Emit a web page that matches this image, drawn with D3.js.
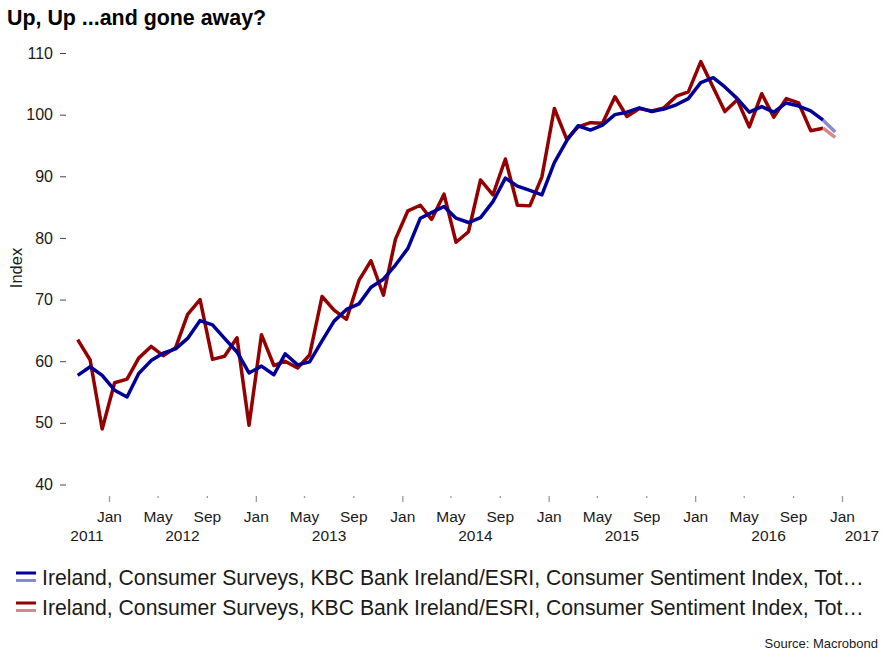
<!DOCTYPE html>
<html>
<head>
<meta charset="utf-8">
<script src="https://cdn.jsdelivr.net/npm/d3@7"></script>
<style>
  body { margin: 0; background: #fff; }
  svg { display: block; }
  text { font-family: "Liberation Sans", Arial, Helvetica, sans-serif; }
</style>
</head>
<body>
<svg id="chart" width="889" height="657"></svg>
<script>
// ---------------- DATA ----------------
const months = [
  "2011-10","2011-11","2011-12",
  "2012-01","2012-02","2012-03","2012-04","2012-05","2012-06","2012-07","2012-08","2012-09","2012-10","2012-11","2012-12",
  "2013-01","2013-02","2013-03","2013-04","2013-05","2013-06","2013-07","2013-08","2013-09","2013-10","2013-11","2013-12",
  "2014-01","2014-02","2014-03","2014-04","2014-05","2014-06","2014-07","2014-08","2014-09","2014-10","2014-11","2014-12",
  "2015-01","2015-02","2015-03","2015-04","2015-05","2015-06","2015-07","2015-08","2015-09","2015-10","2015-11","2015-12",
  "2016-01","2016-02","2016-03","2016-04","2016-05","2016-06","2016-07","2016-08","2016-09","2016-10","2016-11","2016-12"
];
// Consumer Sentiment Index, monthly (red)
const sentimentMonthly = [
  63.5, 60.2, 49.0,
  56.5, 57.1, 60.5, 62.4, 60.9, 62.2, 67.6, 70.0, 60.3, 60.8, 63.8, 49.6,
  64.3, 59.3, 60.0, 58.9, 61.0, 70.5, 68.3, 66.8, 73.1, 76.3, 70.7, 79.8,
  84.4, 85.3, 83.0, 87.1, 79.3, 81.0, 89.4, 87.0, 92.8, 85.3, 85.2, 89.9,
  101.0, 96.0, 98.0, 98.7, 98.6, 102.9, 99.7, 101.0, 100.6, 101.1, 103.0, 103.7,
  108.6, 104.4, 100.5, 102.4, 98.0, 103.4, 99.6, 102.6, 101.9, 97.4, 97.8, 96.3
];
// Consumer Sentiment Index, 3-month average (blue)
const sentiment3m = [
  57.7, 59.1, 57.7,
  55.3, 54.2, 58.0, 60.1, 61.3, 62.0, 63.7, 66.6, 65.9, 63.7, 61.5, 58.1,
  59.2, 57.8, 61.2, 59.4, 59.9, 63.3, 66.5, 68.4, 69.3, 72.0, 73.3, 75.6,
  78.3, 83.2, 84.1, 85.1, 83.2, 82.5, 83.3, 85.9, 89.7, 88.4, 87.7, 87.0,
  92.2, 95.8, 98.2, 97.5, 98.3, 100.0, 100.4, 101.1, 100.5, 100.9, 101.6, 102.6,
  105.2, 106.0, 104.5, 102.6, 100.4, 101.3, 100.4, 101.9, 101.4, 100.6, 99.1, 97.2
];
const yTicks = [40, 50, 60, 70, 80, 90, 100, 110];
const yearLabels = ["2011", "2012", "2013", "2014", "2015", "2016", "2017"];
const seriesLabels = [
  "Ireland, Consumer Surveys, KBC Bank Ireland/ESRI, Consumer Sentiment Index, Tot\u2026",
  "Ireland, Consumer Surveys, KBC Bank Ireland/ESRI, Consumer Sentiment Index, Tot\u2026"
];
const titleText = "Up, Up ...and gone away?";
const yAxisTitle = "Index";
const sourceText = "Source: Macrobond";

// ---------------- STYLE ----------------
const colors = {
  blue: "#000096", blueLight: "#8a8ad2",
  red: "#930000", redLight: "#d48a8a",
  text: "#1a1a1a"
};
const plotLeft = 65, plotRight = 882;

const svg = d3.select("#chart");
const parseMonth = d3.timeParse("%Y-%m");
const dates = months.map(m => d3.timeDay.offset(parseMonth(m), 14));

const x = d3.scaleTime()
  .domain([new Date(2012, 0, 1), new Date(2017, 0, 1)])
  .range([109, 842]);
const y = d3.scaleLinear().domain([40, 110]).range([484.5, 53]);

// Title
svg.append("text")
  .attr("x", 7).attr("y", 25)
  .attr("font-size", 21.4).attr("font-weight", "bold")
  .attr("fill", "#000")
  .text(titleText);

// Y axis
const yAxis = svg.append("g")
  .attr("transform", "translate(66,0)")
  .call(d3.axisLeft(y).tickValues(yTicks).tickSize(6).tickPadding(7));
yAxis.select(".domain").remove();
yAxis.selectAll(".tick line").attr("stroke", "#444").attr("stroke-width", 1);
yAxis.selectAll(".tick text")
  .attr("font-size", 16).attr("fill", colors.text)
  .style("font-family", "'Liberation Sans', Arial, sans-serif");

svg.append("text")
  .attr("transform", "translate(22,268) rotate(-90)")
  .attr("text-anchor", "middle")
  .attr("font-size", 16.5).attr("fill", colors.text)
  .text(yAxisTitle);

// X axis
const xTickDates = d3.timeMonth.every(4).range(new Date(2012, 0, 1), new Date(2017, 0, 2));
const xAxis = svg.append("g")
  .attr("transform", "translate(0,496)")
  .call(d3.axisBottom(x).tickValues(xTickDates).tickFormat(d3.timeFormat("%b")).tickSize(6).tickPadding(8.5));
xAxis.select(".domain").remove();
xAxis.selectAll(".tick line")
  .attr("stroke", "#999")
  .attr("stroke-width", 1.3)
  .attr("y2", d => d.getMonth() === 0 ? 6 : 2);
xAxis.selectAll(".tick text")
  .attr("font-size", 15.5).attr("fill", colors.text)
  .style("font-family", "'Liberation Sans', Arial, sans-serif");

// Year labels centered over visible part of each year
yearLabels.forEach(yr => {
  const y0 = new Date(+yr, 0, 1), y1 = new Date(+yr + 1, 0, 1);
  const a = Math.max(x(y0), plotLeft), b = Math.min(x(y1), plotRight);
  svg.append("text")
    .attr("x", (a + b) / 2).attr("y", 541)
    .attr("text-anchor", "middle")
    .attr("font-size", 15.5).attr("fill", colors.text)
    .text(yr);
});

// Lines
const lineGen = d3.line()
  .x(d => x(d.date))
  .y(d => y(d.value));

function drawSeries(values, dark, light) {
  const pts = values.map((v, i) => ({ date: dates[i], value: v }));
  const n = pts.length;
  svg.append("path")
    .datum(pts.slice(0, n - 1))
    .attr("d", lineGen)
    .attr("fill", "none").attr("stroke", dark)
    .attr("stroke-width", 3.5).attr("stroke-linejoin", "round");
  svg.append("path")
    .datum(pts.slice(n - 2))
    .attr("d", lineGen)
    .attr("fill", "none").attr("stroke", light)
    .attr("stroke-width", 3.5).attr("stroke-linejoin", "round");
}
drawSeries(sentimentMonthly, colors.red, colors.redLight);
drawSeries(sentiment3m, colors.blue, colors.blueLight);

// Legend
const legendItems = [
  { label: seriesLabels[0], dark: colors.blue, light: colors.blueLight },
  { label: seriesLabels[1], dark: colors.red, light: colors.redLight }
];
legendItems.forEach((it, i) => {
  const g = svg.append("g").attr("transform", `translate(0,${i * 30})`);
  g.append("rect").attr("x", 16).attr("y", 571.5).attr("width", 20).attr("height", 3).attr("fill", it.dark);
  g.append("rect").attr("x", 16).attr("y", 579).attr("width", 20).attr("height", 3).attr("fill", it.light);
  g.append("text").attr("x", 42).attr("y", 585)
    .attr("font-size", 21.2).attr("fill", colors.text)
    .text(it.label);
});

// Source
svg.append("text")
  .attr("x", 878).attr("y", 648)
  .attr("text-anchor", "end")
  .attr("font-size", 13).attr("fill", colors.text)
  .text(sourceText);
</script>
</body>
</html>
